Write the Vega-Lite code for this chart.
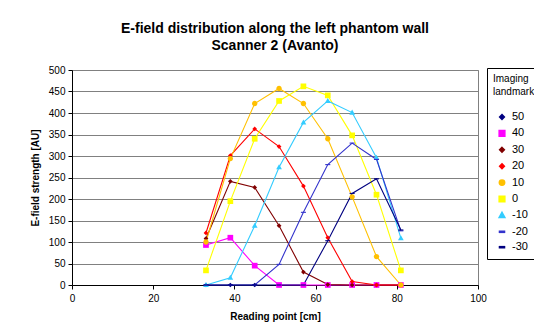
{
  "$schema": "https://vega.github.io/schema/vega-lite/v6.json",
  "autosize": {"type": "none"},
  "width": 406,
  "height": 215,
  "padding": {"left": 72, "top": 70, "right": 56, "bottom": 50},
  "background": "white",
  "title": {
    "text": ["E-field distribution along the left phantom wall", "Scanner 2 (Avanto)"],
    "font": "Liberation Sans",
    "fontSize": 14,
    "fontWeight": "bold",
    "color": "black",
    "anchor": "middle",
    "lineHeight": 17,
    "offset": 12
  },
  "config": {
    "font": "Liberation Sans",
    "view": {"stroke": "#808080", "strokeWidth": 1},
    "axis": {
      "labelFont": "Liberation Sans",
      "labelFontSize": 10,
      "labelColor": "black",
      "labelFlush": false,
      "titleFont": "Liberation Sans",
      "titleFontSize": 10,
      "titleFontWeight": "bold",
      "titleColor": "black",
      "domainColor": "black",
      "tickColor": "black",
      "tickSize": 4,
      "gridColor": "#808080",
      "gridOpacity": 1,
      "gridWidth": 1
    },
    "legend": {
      "labelFont": "Liberation Sans",
      "labelFontSize": 11,
      "labelColor": "black",
      "titleFont": "Liberation Sans",
      "titleFontSize": 10,
      "titleFontWeight": "normal",
      "titleColor": "black"
    }
  },
  "data": {
    "values": [
      {"landmark": "50", "point": 33, "strength": 0}, {"landmark": "50", "point": 39, "strength": 0}, {"landmark": "50", "point": 45, "strength": 0}, {"landmark": "50", "point": 51, "strength": 0}, {"landmark": "50", "point": 57, "strength": 0}, {"landmark": "50", "point": 63, "strength": 0}, {"landmark": "50", "point": 69, "strength": 0}, {"landmark": "50", "point": 75, "strength": 0}, {"landmark": "50", "point": 81, "strength": 0},
      {"landmark": "40", "point": 33, "strength": 93}, {"landmark": "40", "point": 39, "strength": 110}, {"landmark": "40", "point": 45, "strength": 45}, {"landmark": "40", "point": 51, "strength": 0}, {"landmark": "40", "point": 57, "strength": 0}, {"landmark": "40", "point": 63, "strength": 0}, {"landmark": "40", "point": 69, "strength": 0}, {"landmark": "40", "point": 75, "strength": 0}, {"landmark": "40", "point": 81, "strength": 0},
      {"landmark": "30", "point": 33, "strength": 108}, {"landmark": "30", "point": 39, "strength": 241}, {"landmark": "30", "point": 45, "strength": 227}, {"landmark": "30", "point": 51, "strength": 138}, {"landmark": "30", "point": 57, "strength": 30}, {"landmark": "30", "point": 63, "strength": 1}, {"landmark": "30", "point": 69, "strength": 0}, {"landmark": "30", "point": 75, "strength": 0}, {"landmark": "30", "point": 81, "strength": 0},
      {"landmark": "20", "point": 33, "strength": 121}, {"landmark": "20", "point": 39, "strength": 301}, {"landmark": "20", "point": 45, "strength": 363}, {"landmark": "20", "point": 51, "strength": 322}, {"landmark": "20", "point": 57, "strength": 230}, {"landmark": "20", "point": 63, "strength": 110}, {"landmark": "20", "point": 69, "strength": 8}, {"landmark": "20", "point": 75, "strength": 0}, {"landmark": "20", "point": 81, "strength": 0},
      {"landmark": "10", "point": 33, "strength": 100}, {"landmark": "10", "point": 39, "strength": 294}, {"landmark": "10", "point": 45, "strength": 422}, {"landmark": "10", "point": 51, "strength": 457}, {"landmark": "10", "point": 57, "strength": 422}, {"landmark": "10", "point": 63, "strength": 340}, {"landmark": "10", "point": 69, "strength": 205}, {"landmark": "10", "point": 75, "strength": 66}, {"landmark": "10", "point": 81, "strength": 0},
      {"landmark": "0", "point": 33, "strength": 34}, {"landmark": "0", "point": 39, "strength": 195}, {"landmark": "0", "point": 45, "strength": 340}, {"landmark": "0", "point": 51, "strength": 428}, {"landmark": "0", "point": 57, "strength": 462}, {"landmark": "0", "point": 63, "strength": 441}, {"landmark": "0", "point": 69, "strength": 348}, {"landmark": "0", "point": 75, "strength": 210}, {"landmark": "0", "point": 81, "strength": 34},
      {"landmark": "-10", "point": 33, "strength": 0}, {"landmark": "-10", "point": 39, "strength": 17}, {"landmark": "-10", "point": 45, "strength": 138}, {"landmark": "-10", "point": 51, "strength": 274}, {"landmark": "-10", "point": 57, "strength": 378}, {"landmark": "-10", "point": 63, "strength": 428}, {"landmark": "-10", "point": 69, "strength": 401}, {"landmark": "-10", "point": 75, "strength": 296}, {"landmark": "-10", "point": 81, "strength": 109},
      {"landmark": "-20", "point": 33, "strength": 0}, {"landmark": "-20", "point": 39, "strength": 0}, {"landmark": "-20", "point": 45, "strength": 0}, {"landmark": "-20", "point": 51, "strength": 48}, {"landmark": "-20", "point": 57, "strength": 169}, {"landmark": "-20", "point": 63, "strength": 280}, {"landmark": "-20", "point": 69, "strength": 330}, {"landmark": "-20", "point": 75, "strength": 292}, {"landmark": "-20", "point": 81, "strength": 126},
      {"landmark": "-30", "point": 33, "strength": 0}, {"landmark": "-30", "point": 39, "strength": 0}, {"landmark": "-30", "point": 45, "strength": 0}, {"landmark": "-30", "point": 51, "strength": 0}, {"landmark": "-30", "point": 57, "strength": 0}, {"landmark": "-30", "point": 63, "strength": 103}, {"landmark": "-30", "point": 69, "strength": 213}, {"landmark": "-30", "point": 75, "strength": 247}, {"landmark": "-30", "point": 81, "strength": 128}
    ]
  },
  "encoding": {
    "x": {
      "field": "point",
      "type": "quantitative",
      "title": "Reading point [cm]",
      "scale": {"domain": [0, 100], "nice": false, "zero": true},
      "axis": {"values": [0, 20, 40, 60, 80, 100], "grid": false, "labelPadding": 4, "titlePadding": 8}
    },
    "y": {
      "field": "strength",
      "type": "quantitative",
      "title": "E-field strength [AU]",
      "scale": {"domain": [0, 500], "nice": false},
      "axis": {"values": [0, 50, 100, 150, 200, 250, 300, 350, 400, 450, 500], "grid": true, "labelPadding": 3, "titlePadding": 8}
    }
  },
  "layer": [
    {
      "transform": [{"filter": "datum.landmark !== '50'"}],
      "mark": {"type": "line", "strokeWidth": 1.1},
      "encoding": {
        "color": {
          "field": "landmark",
          "type": "nominal",
          "scale": {
            "domain": ["50", "40", "30", "20", "10", "0", "-10", "-20", "-30"],
            "range": ["#000080", "#FF00FF", "#800000", "#FF0000", "#FFC000", "#FFFF00", "#33CCFF", "#3333CC", "#000080"]
          }
        },
        "detail": {"field": "landmark"}
      }
    },
    {
      "mark": {"type": "point", "filled": true, "opacity": 1, "size": 250},
      "encoding": {
        "color": {
          "field": "landmark",
          "type": "nominal",
          "scale": {
            "domain": ["50", "40", "30", "20", "10", "0", "-10", "-20", "-30"],
            "range": ["#000080", "#FF00FF", "#800000", "#FF0000", "#FFC000", "#FFFF00", "#33CCFF", "#3333CC", "#000080"]
          },
          "legend": {
            "title": ["Imaging", "landmark"],
            "orient": "none",
            "legendX": 415,
            "legendY": -2,
            "fillColor": "white",
            "strokeColor": "black",
            "padding": 6,
            "titlePadding": 11,
            "titleLineHeight": 13,
            "symbolSize": 250,
            "labelOffset": 1,
            "rowPadding": 1.4
          }
        },
        "shape": {
          "field": "landmark",
          "type": "nominal",
          "scale": {
            "domain": ["50", "40", "30", "20", "10", "0", "-10", "-20", "-30"],
            "range": [
              "M0,-0.3L0.3,0L0,0.3L-0.3,0Z",
              "M-0.36,-0.36H0.36V0.36H-0.36Z",
              "M0,-0.3L0.3,0L0,0.3L-0.3,0Z",
              "M0,-0.3L0.3,0L0,0.3L-0.3,0Z",
              "M-0.34,0A0.34,0.34 0 1,0 0.34,0A0.34,0.34 0 1,0 -0.34,0Z",
              "M-0.36,-0.36H0.36V0.36H-0.36Z",
              "M0,-0.38L0.36,0.26L-0.36,0.26Z",
              "M-0.32,-0.07H0.32V0.07H-0.32Z",
              "M-0.32,-0.07H0.32V0.07H-0.32Z"
            ]
          },
          "legend": {
            "title": ["Imaging", "landmark"],
            "orient": "none",
            "legendX": 415,
            "legendY": -2,
            "fillColor": "white",
            "strokeColor": "black",
            "padding": 6,
            "titlePadding": 11,
            "titleLineHeight": 13,
            "symbolSize": 250,
            "labelOffset": 1,
            "rowPadding": 1.4
          }
        }
      }
    }
  ]
}
